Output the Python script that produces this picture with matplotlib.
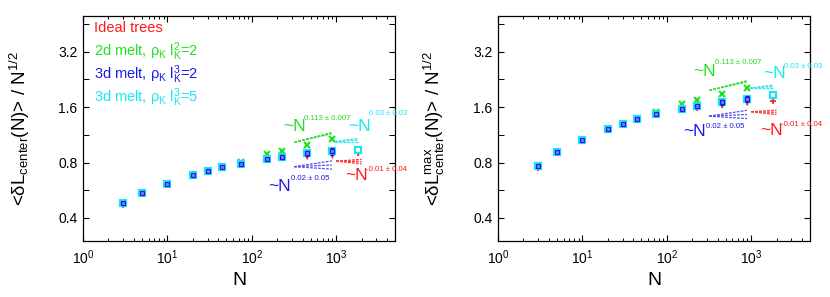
import numpy as np
import matplotlib
matplotlib.use("Agg")
import matplotlib.pyplot as plt
from matplotlib.ticker import FixedLocator, NullFormatter, FixedFormatter, LogLocator

plt.rcParams['font.family'] = ['Liberation Sans', 'DejaVu Sans']
plt.rcParams['mathtext.fontset'] = 'custom'
plt.rcParams['mathtext.rm'] = 'Liberation Sans'
plt.rcParams['mathtext.it'] = 'Liberation Sans:italic'
plt.rcParams['mathtext.default'] = 'regular'

# data
N_all = [3, 5, 10, 20, 30, 45, 75, 150, 230, 450, 900, 1800]
N_900 = N_all[:-1]

# left panel: <dL_center(N)> / N^1/2
ideal_left = [0.47, 0.54, 0.61, 0.68, 0.715, 0.75, 0.785, 0.825, 0.85, 0.87, 0.89, 0.90]
ideal_left_err = [0, 0, 0, 0, 0, 0, 0, 0.01, 0.02, 0.03, 0.04, 0.02]
melt2d_left = [0.48, 0.55, 0.615, 0.685, 0.72, 0.755, 0.805, 0.89, 0.93, 1.0, 1.08]
melt3d2_left = [0.482, 0.55, 0.615, 0.683, 0.72, 0.754, 0.79, 0.833, 0.861, 0.898, 0.924]
melt3d2_left_err = [0, 0, 0, 0, 0, 0, 0, 0.01, 0.02, 0.03, 0.04]
melt3d5_left = [0.482, 0.55, 0.615, 0.683, 0.72, 0.754, 0.79, 0.833, 0.861, 0.898, 0.924, 0.936]

# right panel: <dL_center^max(N)> / N^1/2
ideal_right = [0.75, 0.90, 1.05, 1.21, 1.29, 1.37, 1.45, 1.54, 1.59, 1.65, 1.70, 1.72]
ideal_right_err = [0, 0, 0, 0, 0, 0, 0, 0.02, 0.03, 0.04, 0.05, 0.02]
melt2d_right = [0.77, 0.916, 1.06, 1.22, 1.30, 1.38, 1.51, 1.66, 1.74, 1.89, 2.04]
melt3d2_right = [0.77, 0.916, 1.06, 1.22, 1.30, 1.38, 1.46, 1.56, 1.62, 1.70, 1.77]
melt3d2_right_err = [0, 0, 0, 0, 0, 0, 0, 0.02, 0.03, 0.05, 0.06]
melt3d5_right = [0.77, 0.916, 1.06, 1.22, 1.30, 1.38, 1.46, 1.56, 1.62, 1.70, 1.77, 1.86]

# power-law fits: (N start, N end, amplitude at start, exponent, error)
fits_left = {
    'green': (320, 880, 1.03, 0.113, 0.007),
    'cyan': (960, 1850, 1.04, 0.03, 0.03),
    'blue': (318, 893, 0.76, 0.02, 0.05),
    'red': (1000, 2000, 0.815, -0.01, 0.04),
}
fits_right = {
    'green': (320, 880, 1.97, 0.113, 0.007),
    'cyan': (960, 1850, 2.03, 0.03, 0.03),
    'blue': (318, 893, 1.43, 0.02, 0.05),
    'red': (1000, 2000, 1.51, -0.01, 0.04),
}
fit_labels = {
    'green': '0.113 \u00b1 0.007',
    'cyan': '0.03 \u00b1 0.03',
    'blue': '0.02 \u00b1 0.05',
    'red': '-0.01 \u00b1 0.04',
}

RED = '#ff1a1a'
GREEN = '#22e022'
BLUE = '#1a1ae6'
CYAN = '#1ae6f0'
colors = {'red': RED, 'green': GREEN, 'blue': BLUE, 'cyan': CYAN}
line_colors = {'red': '#ff3030', 'green': '#30e030', 'blue': '#5050f0', 'cyan': '#30e0f0'}

# label positions (axes fraction): "~N" and its exponent
ann_left = {
    'green': ((0.642, 0.508), (0.708, 0.545)),
    'cyan': ((0.850, 0.508), (0.916, 0.568)),
    'blue': ((0.594, 0.241), (0.668, 0.276)),
    'red': ((0.840, 0.293), (0.906, 0.320)),
}
ann_right = {
    'green': ((0.626, 0.752), (0.696, 0.792)),
    'cyan': ((0.850, 0.745), (0.916, 0.775)),
    'blue': ((0.594, 0.486), (0.668, 0.511)),
    'red': ((0.840, 0.490), (0.906, 0.520)),
}


def draw_panel(ax, ideal, ideal_err, m2d, m3d2, m3d2_err, m3d5, fits, ann, ylabel):
    ax.errorbar(N_all, ideal, yerr=ideal_err, fmt='+', color=RED, ms=4.5, mew=1.2,
                elinewidth=1, capsize=0, zorder=2)
    ax.plot(N_900, m2d, 'x', color=GREEN, ms=4.5, mew=1.5, zorder=3)
    ax.plot(N_all, m3d5, 's', mfc='white', mec=CYAN, ms=5, mew=1.6, zorder=4)
    ax.errorbar(N_900, m3d2, yerr=m3d2_err, fmt='s', mfc='#8080ff', mec=BLUE, ms=2.8,
                mew=0.9, ecolor=BLUE, elinewidth=0.8, capsize=1.5, ls='none', zorder=5)

    for key, (n0, n1, amp, ex, dex) in fits.items():
        nn = np.array([n0, n1], dtype=float)
        for e in (ex - dex, ex, ex + dex):
            ax.plot(nn, amp * (nn / n0) ** e, ls=(0, (2.2, 1.0)), lw=0.9,
                    color=line_colors[key], zorder=1)
        (xa, ya), (xb, yb) = ann[key]
        ax.text(xa, ya, '~N', transform=ax.transAxes, color=colors[key], fontsize=12.5,
                ha='left', va='center')
        ax.text(xb, yb, fit_labels[key], transform=ax.transAxes, color=colors[key],
                fontsize=5.6, ha='left', va='center')

    ax.set_xscale('log')
    ax.set_yscale('log')
    ax.set_xlim(1, 5000)
    ax.set_ylim(0.3, 5)
    ax.xaxis.set_major_locator(LogLocator(base=10, numticks=10))
    ax.xaxis.set_minor_locator(LogLocator(base=10, subs=np.arange(2, 10), numticks=20))
    ax.yaxis.set_major_locator(FixedLocator([0.4, 0.8, 1.6, 3.2]))
    ax.yaxis.set_major_formatter(FixedFormatter(['0.4', '0.8', '1.6', '3.2']))
    ax.yaxis.set_minor_locator(FixedLocator([0.4 * 2 ** 0.5, 0.8 * 2 ** 0.5,
                                             1.6 * 2 ** 0.5, 3.2 * 2 ** 0.5]))
    ax.yaxis.set_minor_formatter(NullFormatter())
    ax.tick_params(which='both', direction='in', top=True, right=True, labelsize=10)
    ax.tick_params(which='major', length=4.5, width=0.8)
    ax.tick_params(which='minor', length=2.5, width=0.7)
    ax.tick_params(axis='y', which='minor', length=4.5)
    ax.tick_params(axis='x', pad=5)
    ax.tick_params(axis='y', pad=4)
    for s in ax.spines.values():
        s.set_linewidth(0.9)

    ax.set_xlabel('N', fontsize=14)
    ax.xaxis.set_label_coords(0.5, -0.14)
    ax.set_ylabel(ylabel, fontsize=13.5)
    ax.yaxis.set_label_coords(-0.165, 0.5)


fig = plt.figure(figsize=(8.3, 2.97), dpi=100)
ax1 = fig.add_axes([0.1, 0.1886, 0.376, 0.7574])
ax2 = fig.add_axes([0.6, 0.1886, 0.376, 0.7574])

draw_panel(ax1, ideal_left, ideal_left_err, melt2d_left, melt3d2_left, melt3d2_left_err,
           melt3d5_left, fits_left, ann_left,
           r'<$\delta$L$_{center}$(N)> / N$^{1/2}$')
draw_panel(ax2, ideal_right, ideal_right_err, melt2d_right, melt3d2_right, melt3d2_right_err,
           melt3d5_right, fits_right, ann_right,
           r'<$\delta$L$_{center}^{max}$(N)> / N$^{1/2}$')

legend_texts = ['Ideal trees',
                r'2d melt, $\rho_K\ l_K^2$=2',
                r'3d melt, $\rho_K\ l_K^3$=2',
                r'3d melt, $\rho_K\ l_K^3$=5']
legend_colors = [RED, GREEN, BLUE, CYAN]
legend_y = [0.948, 0.841, 0.738, 0.637]
for t, c, y in zip(legend_texts, legend_colors, legend_y):
    ax1.text(0.036, y, t, transform=ax1.transAxes, color=c, fontsize=10.5,
             ha='left', va='center')

fig.savefig('out.png', dpi=100)
